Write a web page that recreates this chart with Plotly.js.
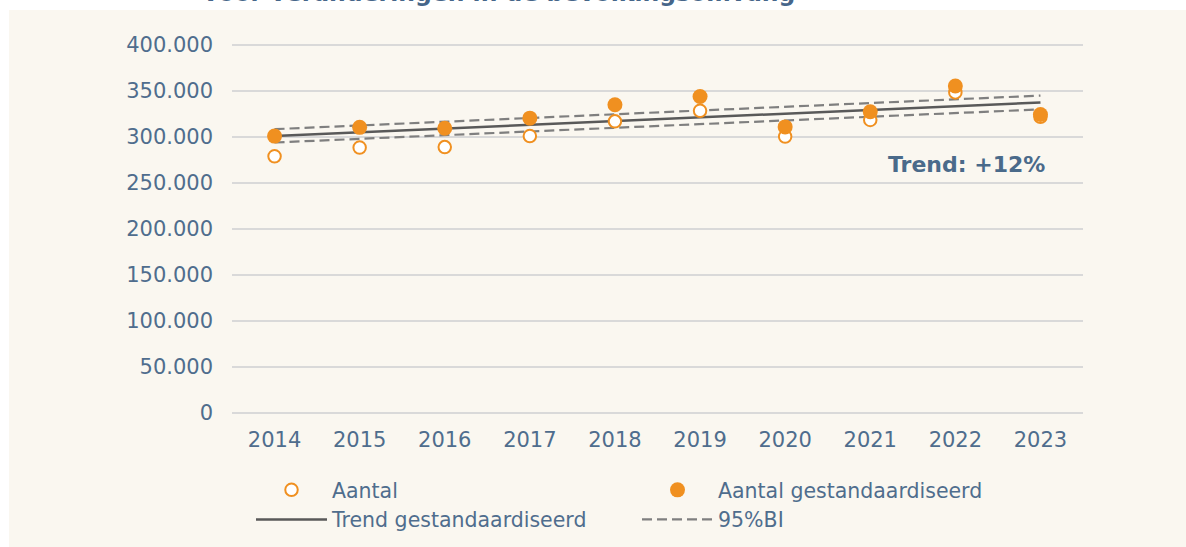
<!DOCTYPE html>
<html>
<head>
<meta charset="utf-8">
<script src="https://cdn.plot.ly/plotly-3.0.1.min.js"></script>
<style>
  html, body { margin: 0; padding: 0; background: #ffffff; }
  #chart { width: 1186px; height: 547px; }
</style>
</head>
<body>
<div id="chart"></div>
<script>
// ---- data ----
const years = [2014, 2015, 2016, 2017, 2018, 2019, 2020, 2021, 2022, 2023];
const aantal = [279000, 288500, 289000, 301000, 317000, 328500, 300500, 318500, 348500, 322000];
const aantalGestandaardiseerd = [301000, 310500, 309500, 320500, 335000, 344000, 311000, 327500, 355500, 324500];
const trendGestandaardiseerd = [301000, 305000, 309000, 313000, 317000, 321500, 325500, 329500, 333500, 337500];
const biBoven = [308500, 312500, 316500, 320500, 324500, 328500, 332500, 336500, 340500, 345000];
const biOnder = [294000, 298000, 302000, 306000, 309500, 313500, 317500, 321500, 325500, 330000];
const yTicks = [0, 50000, 100000, 150000, 200000, 250000, 300000, 350000, 400000];
const titleText = 'voor veranderingen in de bevolkingsomvang';
const trendLabel = 'Trend: +12%';

// ---- layout helpers (pixel geometry) ----
const W = 1186, H = 547;
const L = 232, R = 1083, T = 42, B = 416;
const pw = R - L, ph = B - T;
const px = x => (x - L) / pw;
const py = y => (B - y) / ph;
// value range chosen so that 0 sits at 413px and 400.000 at 45px
const yMin = -3261, yMax = 403261;

const orange = '#F09020';
const textCol = '#4F6D8D';
const font = 'DejaVu Sans, Verdana, sans-serif';

const traces = [
  {
    x: years, y: biBoven, type: 'scatter', mode: 'lines', name: '95%BI',
    legendrank: 4, showlegend: true, legendgroup: 'bi',
    line: { color: '#7F7F7F', width: 2.2, dash: '10px,5px' }, hoverinfo: 'skip'
  },
  {
    x: years, y: biOnder, type: 'scatter', mode: 'lines', name: '95%BI',
    legendrank: 5, showlegend: false, legendgroup: 'bi',
    line: { color: '#7F7F7F', width: 2.2, dash: '10px,5px' }, hoverinfo: 'skip'
  },
  {
    x: years, y: trendGestandaardiseerd, type: 'scatter', mode: 'lines', name: 'Trend gestandaardiseerd',
    legendrank: 3,
    line: { color: '#595959', width: 2.5 }
  },
  {
    x: years, y: aantal, type: 'scatter', mode: 'markers', name: 'Aantal',
    legendrank: 1,
    marker: { color: '#FFFFFF', size: 12.5, line: { color: orange, width: 2 } }
  },
  {
    x: years, y: aantalGestandaardiseerd, type: 'scatter', mode: 'markers', name: 'Aantal gestandaardiseerd',
    legendrank: 2,
    marker: { color: orange, size: 15, line: { width: 0 } }
  }
];

const layout = {
  width: W, height: H,
  margin: { l: L, r: W - R, t: T, b: H - B, pad: 0, autoexpand: false },
  paper_bgcolor: '#FFFFFF',
  plot_bgcolor: 'rgba(0,0,0,0)',
  separators: ',.',
  showlegend: true,
  font: { family: font, color: textCol, size: 21 },
  xaxis: {
    range: [2013.5, 2023.5], tickmode: 'array', tickvals: years, ticktext: years.map(String),
    showgrid: false, zeroline: false, showline: false, ticks: '',
    tickfont: { family: font, size: 21, color: textCol },
    ticklabelstandoff: 9, fixedrange: true, automargin: false
  },
  yaxis: {
    range: [yMin, yMax], tickmode: 'array', tickvals: yTicks, tickformat: ',d',
    showgrid: true, gridcolor: '#D9D9D9', gridwidth: 2,
    zeroline: false, showline: false, ticks: '',
    tickfont: { family: font, size: 21, color: textCol },
    ticklabelstandoff: 18, fixedrange: true, automargin: false
  },
  legend: {
    orientation: 'h', x: px(251), xanchor: 'left', y: py(470), yanchor: 'top',
    bgcolor: 'rgba(0,0,0,0)', traceorder: 'normal',
    font: { family: font, size: 20.5, color: textCol },
    itemwidth: 71, entrywidth: 300, entrywidthmode: 'pixels',
    tracegroupgap: 0, itemclick: false, itemdoubleclick: false
  },
  shapes: [
    {
      type: 'rect', xref: 'paper', yref: 'paper', layer: 'below',
      x0: px(9), x1: px(W + 5), y0: py(H + 5), y1: py(10),
      fillcolor: '#FAF7F0', line: { width: 0 }
    }
  ],
  annotations: [
    {
      text: '<b>' + trendLabel + '</b>', xref: 'paper', yref: 'paper',
      x: px(1047), y: py(164.5), xanchor: 'right', yanchor: 'middle', showarrow: false,
      font: { family: font, size: 22, color: '#4A6A8A' }
    },
    {
      text: '<b>' + titleText + '</b>', xref: 'paper', yref: 'paper',
      x: px(499), y: py(9), xanchor: 'center', yanchor: 'bottom', showarrow: false,
      font: { family: font, size: 23.5, color: '#46668A' }
    }
  ]
};

Plotly.newPlot('chart', traces, layout, { displayModeBar: false, staticPlot: true });
</script>
</body>
</html>
